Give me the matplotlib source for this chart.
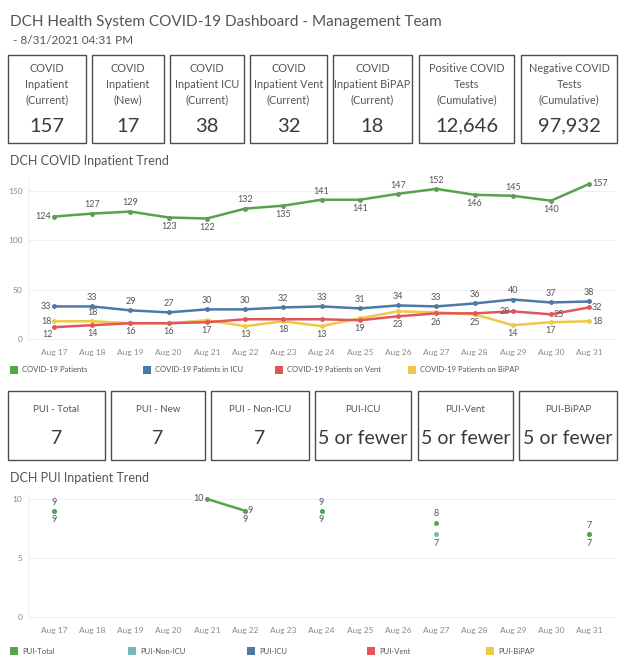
import numpy as np
import matplotlib
matplotlib.use("Agg")
import matplotlib.pyplot as plt
from matplotlib.patches import Rectangle

plt.rcParams['font.family'] = ['Lato', 'DejaVu Sans']

W, H = 624, 666

# ---- data ----
dates = ['Aug 17', 'Aug 18', 'Aug 19', 'Aug 20', 'Aug 21', 'Aug 22', 'Aug 23', 'Aug 24',
         'Aug 25', 'Aug 26', 'Aug 27', 'Aug 28', 'Aug 29', 'Aug 30', 'Aug 31']
patients = [124, 127, 129, 123, 122, 132, 135, 141, 141, 147, 152, 146, 145, 140, 157]
icu = [33, 33, 29, 27, 30, 30, 32, 33, 31, 34, 33, 36, 40, 37, 38]
vent = [12, 14, 16, 16, 17, 20, 20, 20, 19, 23, 26, 26, 28, 25, 32]
bipap = [18, 18, 16, 16, 19, 13, 18, 13, 21, 28, 27, 25, 14, 17, 18]

pui_total = [9, None, None, None, 10, 9, None, 9, None, None, 8, None, None, None, 7]
pui_nonicu = [9, None, None, None, None, 9, None, 9, None, None, 7, None, None, None, 7]

kpi_titles = ['COVID\nInpatient\n(Current)', 'COVID\nInpatient\n(New)', 'COVID\nInpatient ICU\n(Current)',
              'COVID\nInpatient Vent\n(Current)', 'COVID\nInpatient BiPAP\n(Current)',
              'Positive COVID\nTests\n(Cumulative)', 'Negative COVID\nTests\n(Cumulative)']
kpi_values = ['157', '17', '38', '32', '18', '12,646', '97,932']

pui_titles = ['PUI - Total', 'PUI - New', 'PUI - Non-ICU', 'PUI-ICU', 'PUI-Vent', 'PUI-BiPAP']
pui_values = ['7', '7', '7', '5 or fewer', '5 or fewer', '5 or fewer']

# label placements (a=above, b=below, l=left, r=right, bl=below-left, None=hidden)
pat_pos = ['l', 'a', 'a', 'b', 'b', 'a', 'b', 'a', 'b', 'a', 'a', 'b', 'a', 'b', 'r']
icu_pos = ['l'] + ['a'] * 14
vent_pos = ['bl', 'b', 'b', 'b', 'b', None, None, None, 'b', 'b', 'b', None, 'l', 'r', 'r']
bipap_pos = ['l', 'a', None, None, None, 'b', 'b', 'b', None, None, None, 'b', 'b', 'b', 'r']

GREEN = '#59a14f'
BLUE = '#4e79a7'
RED = '#e15759'
YELLOW = '#edc948'
TEAL = '#76b7b2'
TXT = '#555555'
TICK = '#8a8a8a'

fig = plt.figure(figsize=(W / 100, H / 100), dpi=100)


def fy(y):
    return 1 - y / H


def fx(x):
    return x / W


def box(x0, x1, y0, y1):
    fig.add_artist(Rectangle((fx(x0), fy(y1)), fx(x1) - fx(x0), fy(y0) - fy(y1),
                             transform=fig.transFigure, fill=False, ec='#4d4d4d', lw=1.0))


# ---- header ----
fig.text(fx(10), fy(22), 'DCH Health System COVID-19 Dashboard - Management Team',
         fontsize=11, color=TXT, va='center')
fig.text(fx(10), fy(41), ' - 8/31/2021 04:31 PM', fontsize=8.5, color=TXT, va='center')

kpi_x = [(8, 86), (92, 164), (170, 244), (250, 327), (333, 412), (419, 514), (521, 617)]
for (x0, x1), t, v in zip(kpi_x, kpi_titles, kpi_values):
    box(x0, x1, 55, 143)
    fig.text(fx((x0 + x1) / 2), fy(63), t, fontsize=7.8, color=TXT, ha='center', va='top',
             linespacing=1.5)
    fig.text(fx((x0 + x1) / 2), fy(126), v, fontsize=14.5, color='#3a3a3a', ha='center',
             va='center')

fig.text(fx(10), fy(161), 'DCH COVID Inpatient Trend', fontsize=9, color=TXT, va='center')

x = np.arange(len(dates))


def place(ax, xi, yi, val, pos, color=TXT):
    off = {'a': (0, 3), 'b': (0, -3), 'l': (-2, 0), 'r': (2, 0), 'bl': (-1, -2)}[pos]
    ha = {'a': 'center', 'b': 'center', 'l': 'right', 'r': 'left', 'bl': 'right'}[pos]
    va = {'a': 'bottom', 'b': 'top', 'l': 'center', 'r': 'center', 'bl': 'top'}[pos]
    ax.annotate(str(val), (xi, yi), xytext=off, textcoords='offset points',
                ha=ha, va=va, fontsize=6.5, color=color)


def style(ax, yticks):
    for s in ax.spines.values():
        s.set_visible(False)
    ax.set_yticks(yticks)
    ax.set_xticks(x)
    ax.set_xticklabels(dates)
    ax.tick_params(length=0, labelsize=6, labelcolor=TICK, pad=6)
    ax.tick_params(axis='y', pad=4)
    ax.grid(axis='y', color='#f0f0f0', lw=0.8)
    ax.set_axisbelow(True)
    ax.axvline(ax.get_xlim()[0], color='#f0f0f0', lw=0.8)


# ---- trend chart 1 ----
ax1 = fig.add_axes([fx(28), fy(341), fx(616) - fx(28), fy(178) - fy(341)])
ax1.set_xlim(-0.68, 14.7)
ax1.set_ylim(-2, 163)
for vals, col, pos in [(bipap, YELLOW, bipap_pos), (vent, RED, vent_pos),
                       (icu, BLUE, icu_pos), (patients, GREEN, pat_pos)]:
    ax1.plot(x, vals, color=col, lw=1.8, marker='o', ms=2.5, zorder=3)
    for xi, v, p in zip(x, vals, pos):
        if p:
            place(ax1, xi, v, v, p)
style(ax1, [0, 50, 100, 150])


def legend(items, xs, y):
    for (lab, col), xp in zip(items, xs):
        fig.add_artist(Rectangle((fx(xp), fy(y + 4)), fx(8), 8 / H, transform=fig.transFigure,
                                 fc=col, ec='none'))
        fig.text(fx(xp + 12), fy(y), lab, fontsize=5.5, color=TXT, va='center')


legend([('COVID-19 Patients', GREEN), ('COVID-19 Patients in ICU', BLUE),
        ('COVID-19 Patients on Vent', RED), ('COVID-19 Patients on BiPAP', YELLOW)],
       [10, 143, 275, 408], 370)

# ---- PUI boxes ----
pui_x = [(8, 105), (111, 205), (211, 309), (315, 411), (418, 513), (519, 617)]
for (x0, x1), t, v in zip(pui_x, pui_titles, pui_values):
    box(x0, x1, 391, 460)
    fig.text(fx((x0 + x1) / 2), fy(409), t, fontsize=7, color=TXT, ha='center', va='center')
    fig.text(fx((x0 + x1) / 2), fy(438), v, fontsize=14, color='#3a3a3a', ha='center',
             va='center')

fig.text(fx(10), fy(478), 'DCH PUI Inpatient Trend', fontsize=9, color=TXT, va='center')

# ---- trend chart 2 ----
ax2 = fig.add_axes([fx(28), fy(619), fx(616) - fx(28), fy(494) - fy(619)])
ax2.set_xlim(-0.68, 14.7)
ax2.set_ylim(-0.17, 10.42)
tot = np.array([np.nan if v is None else v for v in pui_total], dtype=float)
non = np.array([np.nan if v is None else v for v in pui_nonicu], dtype=float)
ax2.plot(x, non, color=TEAL, lw=1.8, marker='o', ms=2.5, zorder=3)
ax2.plot(x, tot, color=GREEN, lw=1.8, marker='o', ms=2.5, zorder=4)
for xi, t, n in zip(x, tot, non):
    if not np.isnan(t):
        if xi == 4:
            place(ax2, xi, t, int(t), 'l')
        elif xi == 5:
            place(ax2, xi, t, int(t), 'r')
        else:
            place(ax2, xi, t, int(t), 'a')
    if not np.isnan(n):
        place(ax2, xi, n, int(n), 'b')
style(ax2, [0, 5, 10])

legend([('PUI-Total', GREEN), ('PUI-Non-ICU', TEAL), ('PUI-ICU', BLUE),
        ('PUI-Vent', RED), ('PUI-BiPAP', YELLOW)],
       [10, 128, 247, 367, 486], 651)

fig.savefig('out.png', dpi=100)
